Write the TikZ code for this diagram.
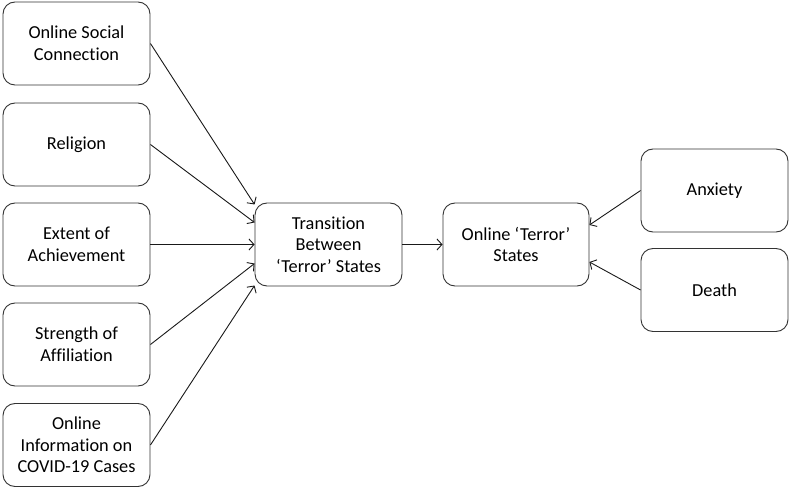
\documentclass[tikz,border=0pt]{standalone}
\usepackage{fontspec}
\setmainfont{Carlito}[Ligatures=NoCommon]
\usetikzlibrary{arrows.meta}
\begin{document}
\begin{tikzpicture}[x=1pt,y=-1pt,
  box/.style={draw=black!80, line width=0.9pt, rounded corners=12pt, minimum width=147pt, minimum height=83pt, align=center, font=\fontsize{18.3}{21.7}\selectfont, inner sep=0pt},
  conn/.style={draw=black!90, line width=0.9pt, -{Straight Barb[length=5pt,width=11pt]}}]
\useasboundingbox (0,0) rectangle (790,489);
\node[box] (osc) at (76.5,43.5) {Online Social\\Connection};
\node[box] (rel) at (76.5,144.5) {Religion};
\node[box] (ach) at (76.5,244.5) {Extent of\\Achievement};
\node[box] (aff) at (76.5,344.5) {Strength of\\Affiliation};
\node[box] (cov) at (76.5,445) {Online\\Information on\\COVID-19 Cases};
\node[box] (tr) at (328.5,244.5) {Transition\\Between\\‘Terror’ States};
\node[box, minimum width=146pt] (ots) at (516,244.5) {Online ‘Terror’\\States};
\node[box] (anx) at (714.5,190.5) {Anxiety};
\node[box] (dea) at (714.5,290) {Death};
\draw[conn] (osc.east) -- ([yshift=40pt]tr.west);
\draw[conn] (rel.east) -- ([yshift=22pt]tr.west);
\draw[conn] (ach.east) -- (tr.west);
\draw[conn] (aff.east) -- ([yshift=-19pt]tr.west);
\draw[conn] (cov.east) -- ([yshift=-41pt]tr.west);
\draw[conn] (tr.east) -- (ots.west);
\draw[conn] (anx.west) -- ([yshift=19.5pt]ots.east);
\draw[conn] (dea.west) -- ([yshift=-17.5pt]ots.east);
\end{tikzpicture}
\end{document}
